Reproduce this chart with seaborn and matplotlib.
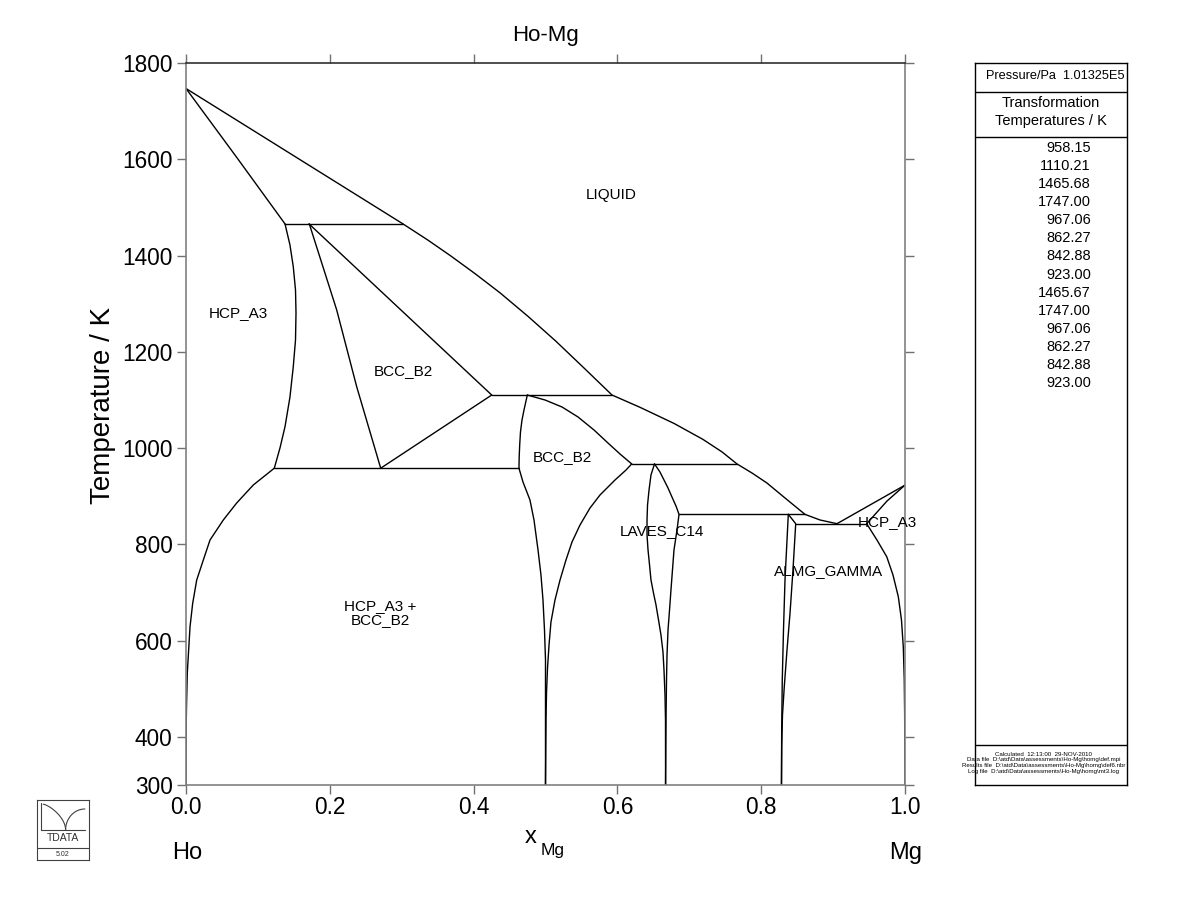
import numpy as np
import pandas as pd
import matplotlib
matplotlib.use("Agg")
import matplotlib.pyplot as plt
import seaborn as sns

# ---------------- data (x_Mg, T/K) ----------------
title = "Ho-Mg"

# invariant temperatures with their composition ranges
inv_T = [1465.68, 1110.21, 958.15, 967.06, 862.27, 842.88]
inv_x_left = [0.1377, 0.4252, 0.1228, 0.6199, 0.6857, 0.8480]
inv_x_right = [0.3018, 0.5925, 0.4631, 0.7663, 0.8609, 0.9467]

liq_x = [0.0, 0.3018, 0.3366, 0.3672, 0.4019, 0.4367, 0.4757, 0.5146, 0.5535, 0.5925,
         0.6314, 0.6790, 0.7190, 0.7455, 0.7663, 0.7872, 0.8080, 0.8331, 0.8609, 0.8818, 0.9054]
liq_T = [1747.0, 1465.7, 1431.9, 1400.3, 1362.5, 1322.6, 1273.6, 1221.8, 1166.4, 1110.2,
         1084.7, 1051.0, 1018.0, 992.0, 967.06, 948.2, 927.4, 896.3, 862.27, 850.6, 842.88]

hcp_sol_x = [0.0, 0.07, 0.1377]
hcp_sol_T = [1747.0, 1605.0, 1465.7]

hcp_up_x = [0.1377, 0.1446, 0.1492, 0.1523, 0.1530, 0.1523, 0.1492, 0.1446, 0.1377, 0.1307, 0.1228]
hcp_up_T = [1465.7, 1421.9, 1376.8, 1328.4, 1280.6, 1224.5, 1169.1, 1106.1, 1044.4, 1000.1, 958.15]

hcp_solv_x = [0.1228, 0.0936, 0.0705, 0.0519, 0.0334, 0.0241, 0.0149, 0.0093, 0.0056, 0.0018, 0.0008, 0.0002, 0.0]
hcp_solv_T = [958.15, 923.3, 885.9, 850.6, 809.0, 767.5, 725.9, 677.5, 628.9, 532.7, 470.0, 420.0, 300.0]

bcc_sol_x = [0.1711, 0.4252]
bcc_sol_T = [1465.7, 1110.2]

bcc_left_x = [0.1715, 0.2096, 0.2374, 0.2708]
bcc_left_T = [1465.7, 1286.9, 1127.5, 958.15]

bcc_b2_x = [0.4252, 0.2708]
bcc_b2_T = [1110.2, 958.15]

b2_left_x = [0.4747, 0.4701, 0.4673, 0.4652, 0.4641, 0.4634, 0.4631, 0.4687, 0.4784, 0.4840,
             0.4896, 0.4937, 0.4965, 0.4986, 0.5, 0.5]
b2_left_T = [1110.2, 1079.1, 1058.3, 1033.4, 1006.4, 981.4, 958.15, 929.5, 892.1, 850.6,
             788.2, 736.3, 684.4, 622.0, 559.7, 300.0]

b2_rtop_x = [0.4747, 0.4993, 0.5230, 0.5452, 0.5675, 0.5869, 0.6036, 0.6199]
b2_rtop_T = [1110.2, 1099.9, 1085.3, 1064.6, 1037.5, 1010.5, 987.7, 967.06]

b2_rlow_x = [0.6199, 0.6120, 0.5967, 0.5758, 0.5619, 0.5480, 0.5369, 0.5285, 0.5202, 0.5132,
             0.5076, 0.5049, 0.5028, 0.5014, 0.5007, 0.5]
b2_rlow_T = [967.06, 954.4, 933.7, 902.5, 875.5, 840.2, 804.9, 767.5, 725.9, 684.4,
             638.6, 590.9, 543.1, 491.1, 435.0, 300.0]

lav_left_x = [0.6516, 0.6467, 0.6440, 0.6419, 0.6412, 0.6412, 0.6426, 0.6447, 0.6467, 0.6502,
              0.6537, 0.6572, 0.6606, 0.6634, 0.6648, 0.6662, 0.6669, 0.667]
lav_left_T = [967.06, 944.1, 912.9, 881.7, 850.6, 819.4, 788.2, 757.1, 725.9, 698.9,
              674.0, 642.8, 611.6, 576.3, 538.9, 487.0, 435.0, 300.0]

lav_right_x = [0.6516, 0.6592, 0.6648, 0.6704, 0.6759, 0.6815, 0.6857, 0.6829, 0.6787, 0.6766,
               0.6745, 0.6725, 0.6704, 0.6690, 0.6683, 0.6676, 0.667]
lav_right_T = [967.06, 950.3, 933.7, 917.0, 898.3, 879.6, 862.27, 829.8, 788.2, 746.7,
               705.1, 663.6, 622.0, 570.1, 518.1, 435.0, 300.0]

gam_left_x = [0.8377, 0.8352, 0.8331, 0.8310, 0.8293, 0.8285, 0.8282]
gam_left_T = [862.27, 788.2, 725.9, 622.0, 518.1, 414.3, 300.0]

gam_right_x = [0.8377, 0.8480, 0.8442, 0.8401, 0.8359, 0.8321, 0.8296, 0.8285, 0.8282]
gam_right_T = [862.27, 842.88, 746.7, 657.3, 580.5, 504.2, 445.4, 379.6, 300.0]

mg_liq_x = [0.9054, 1.0]
mg_liq_T = [842.88, 923.0]

mg_sol_x = [0.9467, 0.975, 1.0]
mg_sol_T = [842.88, 890.0, 923.0]

mg_solv_x = [0.9467, 0.9610, 0.9746, 0.9833, 0.9907, 0.9951, 0.9976, 0.9990, 0.9995, 1.0]
mg_solv_T = [842.88, 809.0, 774.3, 736.3, 691.2, 642.8, 587.3, 518.1, 449.6, 300.0]

phase_labels = ["LIQUID", "HCP_A3", "BCC_B2", "BCC_B2", "LAVES_C14", "ALMG_GAMMA", "HCP_A3", "HCP_A3 +\nBCC_B2"]
label_x = [0.591, 0.0723, 0.303, 0.523, 0.662, 0.894, 0.976, 0.270]
label_T = [1525.8, 1280.6, 1160.1, 981.4, 827.7, 744.6, 846.4, 657.3]

x_ticks = [0.0, 0.2, 0.4, 0.6, 0.8, 1.0]
y_ticks = [300, 400, 600, 800, 1000, 1200, 1400, 1600, 1800]

transf_temps = ["958.15", "1110.21", "1465.68", "1747.00", "967.06", "862.27", "842.88",
                "923.00", "1465.67", "1747.00", "967.06", "862.27", "842.88", "923.00"]
footer_lines = ["Calculated  12:13:00  29-NOV-2010",
                r"Data file  D:\atd\Data\assessments\Ho-Mg\homg\def.mpi",
                r"Results file  D:\atd\Data\assessments\Ho-Mg\homg\def6.nbr",
                r"Log file  D:\atd\Data\assessments\Ho-Mg\homg\mt3.log"]

# ---------------- build segments ----------------
curves = [(liq_x, liq_T), (hcp_sol_x, hcp_sol_T), (hcp_up_x, hcp_up_T), (hcp_solv_x, hcp_solv_T),
          (bcc_sol_x, bcc_sol_T), (bcc_left_x, bcc_left_T), (bcc_b2_x, bcc_b2_T),
          (b2_left_x, b2_left_T), (b2_rtop_x, b2_rtop_T), (b2_rlow_x, b2_rlow_T),
          (lav_left_x, lav_left_T), (lav_right_x, lav_right_T),
          (gam_left_x, gam_left_T), (gam_right_x, gam_right_T),
          (mg_liq_x, mg_liq_T), (mg_sol_x, mg_sol_T), (mg_solv_x, mg_solv_T)]
for t, xl, xr in zip(inv_T, inv_x_left, inv_x_right):
    curves.append(([xl, xr], [t, t]))

rows = []
for i, (xs, ts) in enumerate(curves):
    for k, (xv, tv) in enumerate(zip(xs, ts)):
        rows.append({"seg": i, "order": k, "x": xv, "T": tv})
df = pd.DataFrame(rows)

# ---------------- plot ----------------
sns.set_style("ticks")
plt.rcParams['font.family'] = ['Liberation Sans', 'DejaVu Sans']
plt.rcParams['text.color'] = 'black'
plt.rcParams['xtick.labelcolor'] = 'black'
plt.rcParams['ytick.labelcolor'] = 'black'

W, H = 1200, 923
fig = plt.figure(figsize=(12, 9.23), dpi=100)
ax = fig.add_axes([186 / W, 1 - 785 / H, 719 / W, 722 / H])

sns.lineplot(data=df, x="x", y="T", units="seg", estimator=None, sort=False,
             color="black", linewidth=1.0, ax=ax, legend=False)

ax.set_xlim(0, 1)
ax.set_ylim(300, 1800)
ax.set_xticks(x_ticks)
ax.set_xticklabels([f"{v:.1f}" for v in x_ticks])
ax.set_yticks(y_ticks)
ax.set_yticklabels([str(v) for v in y_ticks])
ax.set_xlabel("")
ax.set_ylabel("")
ax.tick_params(axis="both", which="major", direction="out", length=6.2, width=1.0,
               color="#707070", labelcolor="black", labelsize=16.3, top=True, right=True,
               labeltop=False, labelright=False)
ax.tick_params(axis="x", pad=1.5)
ax.tick_params(axis="y", pad=3.5)
for side in ["left", "right", "bottom"]:
    ax.spines[side].set_color("#808080")
    ax.spines[side].set_linewidth(1.2)
ax.spines["top"].set_color("#303030")
ax.spines["top"].set_linewidth(1.2)

for lab, xv, tv in zip(phase_labels, label_x, label_T):
    ax.text(xv, tv, lab, ha="center", va="center", fontsize=11, linespacing=1.05, color="black")

fig.text(546 / W, 1 - 35 / H, title, ha="center", va="center", fontsize=16)
fig.text(103 / W, 1 - 405 / H, "Temperature / K", rotation=90, ha="center", va="center", fontsize=20)
fig.text(172 / W, 1 - 853 / H, "Ho", ha="left", va="center", fontsize=17)
fig.text(922 / W, 1 - 853 / H, "Mg", ha="right", va="center", fontsize=17)
fig.text(537 / W, 1 - 837 / H, "x", ha="right", va="center", fontsize=17)
fig.text(541 / W, 1 - 851 / H, "Mg", ha="left", va="center", fontsize=12.5)

# ---------------- right panel ----------------
pax = fig.add_axes([975 / W, 1 - 785 / H, 152 / W, 722 / H])
pax.set_xlim(0, 1)
pax.set_ylim(0, 1)
pax.set_xticks([])
pax.set_yticks([])
for s in pax.spines.values():
    s.set_color("black")
    s.set_linewidth(1.0)
yy = lambda py: (785 - py) / 722.0
for py in [91.7, 136.7, 745]:
    pax.plot([0, 1], [yy(py), yy(py)], color="black", lw=1.0)
pax.text(0.075, yy(76), "Pressure/Pa  1.01325E5", ha="left", va="center", fontsize=9.2)
pax.text(0.5, yy(103), "Transformation", ha="center", va="center", fontsize=10.5)
pax.text(0.5, yy(121), "Temperatures / K", ha="center", va="center", fontsize=10.5)
for i, v in enumerate(transf_temps):
    pax.text(0.763, yy(148 + i * 18.08), v, ha="right", va="center", fontsize=10.5)
for i, line in enumerate(footer_lines):
    pax.text(0.45, yy(754 + i * 6.0), line, ha="center", va="center", fontsize=4.4,
             clip_on=False)

# ---------------- logo ----------------
lax = fig.add_axes([37 / W, 1 - 860 / H, 52 / W, 60 / H])
lax.set_xlim(0, 1)
lax.set_ylim(0, 1)
lax.set_xticks([])
lax.set_yticks([])
for s in lax.spines.values():
    s.set_color("#404040")
    s.set_linewidth(0.8)
lax.plot([0, 1], [0.2, 0.2], color="#404040", lw=0.8)
lax.plot([0.08, 0.92], [0.5, 0.5], color="#404040", lw=0.8)
lax.plot([0.08, 0.08], [0.5, 0.95], color="#404040", lw=0.8)
tt = np.linspace(0, 1, 30)
lax.plot(0.12 + 0.43 * np.sin(tt * np.pi / 2), 0.93 - 0.43 * (1 - np.cos(tt * np.pi / 2)) ** 0.7,
         color="#404040", lw=0.8)
lax.plot(0.55 + 0.37 * (1 - np.cos(tt * np.pi / 2)), 0.5 + 0.35 * np.sin(tt * np.pi / 2),
         color="#404040", lw=0.8)
lax.text(0.5, 0.36, "TDATA", ha="center", va="center", fontsize=7.5, color="#303030")
lax.text(0.5, 0.1, "5.02", ha="center", va="center", fontsize=5, color="#303030")

fig.savefig("out.png", dpi=100)
